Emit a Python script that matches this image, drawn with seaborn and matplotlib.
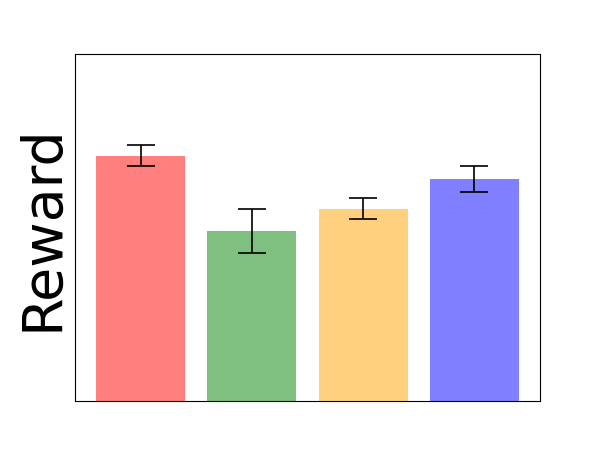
import matplotlib
matplotlib.use("Agg")
import matplotlib.pyplot as plt
import seaborn as sns
import pandas as pd

categories = ["A", "B", "C", "D"]
rewards = [0.706, 0.490, 0.553, 0.640]
errors = [0.030, 0.063, 0.030, 0.037]
colors = ["red", "green", "orange", "blue"]

df = pd.DataFrame({"cat": categories, "reward": rewards})

fig, ax = plt.subplots(figsize=(6, 4.5), dpi=100)
sns.barplot(data=df, x="cat", y="reward", hue="cat", palette=colors,
            saturation=1, alpha=0.5, width=0.8, errorbar=None, legend=False, ax=ax)
ax.errorbar(range(len(categories)), rewards, yerr=errors, fmt="none",
            ecolor="black", capsize=10, elinewidth=1.2, capthick=1.2)
ax.set_xlim(-0.59, 3.59)
ax.set_ylim(0, 1)
ax.set_xticks([])
ax.set_yticks([])
ax.set_xlabel("")
ax.set_ylabel("Reward", fontsize=40)
fig.savefig("out.png", dpi=100)
